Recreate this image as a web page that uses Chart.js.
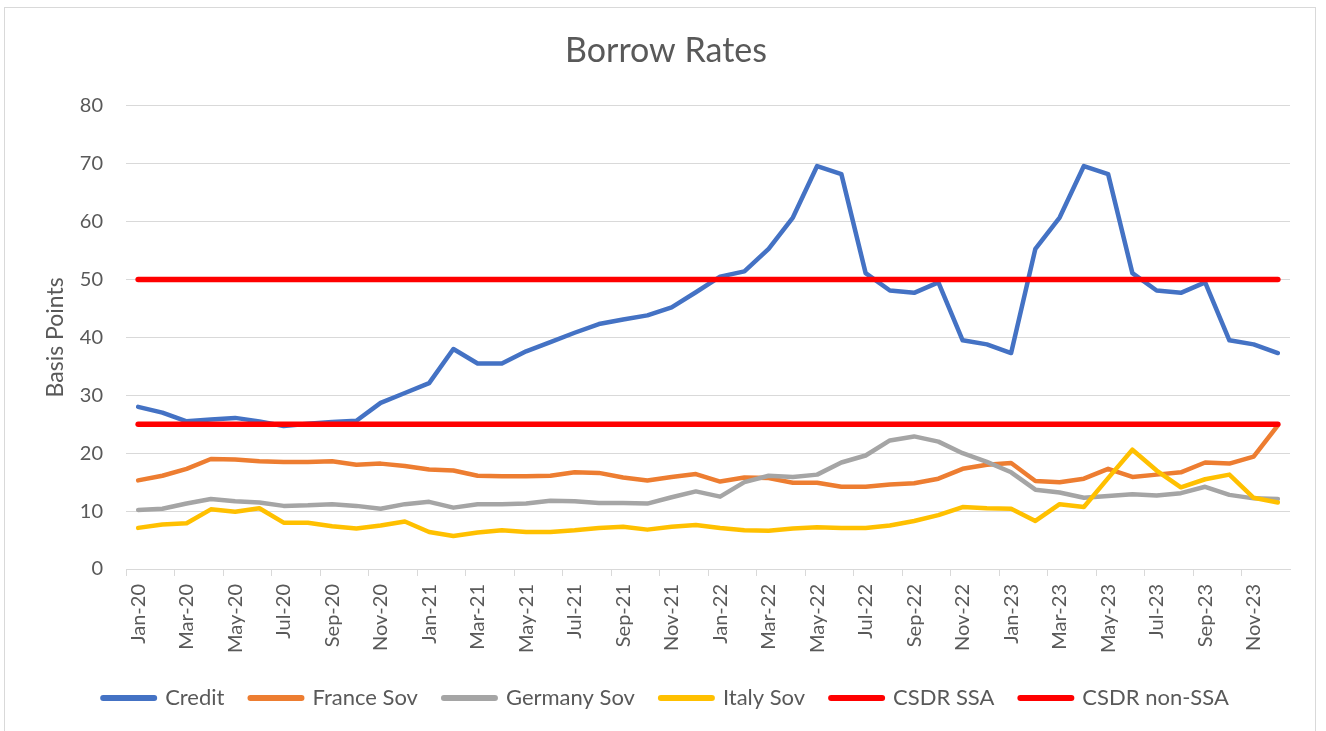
<!DOCTYPE html>
<html>
<head>
<meta charset="utf-8">
<script src="https://cdn.jsdelivr.net/npm/chart.js@4/dist/chart.umd.min.js"></script>
<style>
    html, body { margin: 0; padding: 0; background: #fff; overflow: hidden; }
    #wrap { position: relative; width: 1326px; height: 731px; }
    #frame { position: absolute; left: 4px; top: 7px; width: 1312px; height: 740px; border: 1px solid #D9D9D9; box-sizing: border-box; }
    canvas { position: absolute; left: 0; top: 0; }
</style>
</head>
<body>
<div id="wrap">
    <div id="frame"></div>
    <canvas id="borrowChart" width="1326" height="731"></canvas>
</div>
<script>
// Monthly categories
const months = [
    'Jan-20', 'Feb-20', 'Mar-20', 'Apr-20', 'May-20', 'Jun-20', 'Jul-20', 'Aug-20', 'Sep-20', 'Oct-20', 'Nov-20', 'Dec-20',
    'Jan-21', 'Feb-21', 'Mar-21', 'Apr-21', 'May-21', 'Jun-21', 'Jul-21', 'Aug-21', 'Sep-21', 'Oct-21', 'Nov-21', 'Dec-21',
    'Jan-22', 'Feb-22', 'Mar-22', 'Apr-22', 'May-22', 'Jun-22', 'Jul-22', 'Aug-22', 'Sep-22', 'Oct-22', 'Nov-22', 'Dec-22',
    'Jan-23', 'Feb-23', 'Mar-23', 'Apr-23', 'May-23', 'Jun-23', 'Jul-23', 'Aug-23', 'Sep-23', 'Oct-23', 'Nov-23', 'Dec-23'
];

// Borrow rates in basis points
const credit = [
    28.0, 27.0, 25.5, 25.8, 26.1, 25.5, 24.7, 25.1, 25.4, 25.6, 28.7, 30.4,
    32.1, 38.0, 35.5, 35.5, 37.6, 39.2, 40.8, 42.3, 43.1, 43.8, 45.2, 47.8,
    50.5, 51.4, 55.3, 60.7, 69.6, 68.2, 51.1, 48.1, 47.7, 49.5, 39.5, 38.8,
    37.3, 55.3, 60.7, 69.6, 68.2, 51.1, 48.1, 47.7, 49.5, 39.5, 38.8, 37.3
];
const franceSov = [
    15.3, 16.1, 17.3, 19.0, 18.9, 18.6, 18.5, 18.5, 18.6, 18.0, 18.2, 17.8,
    17.2, 17.0, 16.1, 16.0, 16.0, 16.1, 16.7, 16.6, 15.8, 15.3, 15.9, 16.4,
    15.1, 15.8, 15.7, 14.9, 14.9, 14.2, 14.2, 14.6, 14.8, 15.6, 17.3, 18.0,
    18.3, 15.2, 15.0, 15.6, 17.3, 15.9, 16.3, 16.7, 18.4, 18.2, 19.4, 24.8
];
const germanySov = [
    10.2, 10.4, 11.3, 12.1, 11.7, 11.5, 10.9, 11.0, 11.2, 10.9, 10.4, 11.2,
    11.6, 10.6, 11.2, 11.2, 11.3, 11.8, 11.7, 11.4, 11.4, 11.3, 12.4, 13.4,
    12.5, 15.0, 16.1, 15.9, 16.3, 18.4, 19.6, 22.2, 22.9, 22.0, 20.0, 18.5,
    16.7, 13.7, 13.2, 12.3, 12.6, 12.9, 12.7, 13.1, 14.2, 12.8, 12.2, 12.1
];
const italySov = [
    7.1, 7.7, 7.9, 10.3, 9.9, 10.5, 8.0, 8.0, 7.4, 7.0, 7.5, 8.2,
    6.4, 5.7, 6.3, 6.7, 6.4, 6.4, 6.7, 7.1, 7.3, 6.8, 7.3, 7.6,
    7.1, 6.7, 6.6, 7.0, 7.2, 7.1, 7.1, 7.5, 8.3, 9.3, 10.7, 10.5,
    10.4, 8.3, 11.2, 10.7, 15.7, 20.6, 17.0, 14.1, 15.5, 16.3, 12.3, 11.5
];

// CSDR threshold levels (flat lines)
const csdrSsaLevel = 50;
const csdrNonSsaLevel = 25;
const csdrSsa = months.map(() => csdrSsaLevel);
const csdrNonSsa = months.map(() => csdrNonSsaLevel);

// Y axis ticks
const yTicks = [0, 10, 20, 30, 40, 50, 60, 70, 80];

const textColor = '#595959';
const gridColor = '#D9D9D9';
const fontFamily = 'Lato, "Open Sans", sans-serif';

function series(label, data, color, width, order) {
    return {
        label: label,
        data: data,
        borderColor: color,
        backgroundColor: color,
        borderWidth: width,
        borderCapStyle: 'round',
        borderJoinStyle: 'round',
        pointRadius: 0,
        pointHoverRadius: 0,
        pointStyle: 'line',
        tension: 0,
        fill: false,
        order: order
    };
}

new Chart(document.getElementById('borrowChart'), {
    type: 'line',
    data: {
        labels: months,
        datasets: [
            series('Credit', credit, '#4472C4', 4.5, 6),
            series('France Sov', franceSov, '#ED7D31', 4.5, 5),
            series('Germany Sov', germanySov, '#A5A5A5', 4.5, 4),
            series('Italy Sov', italySov, '#FFC000', 4.5, 3),
            series('CSDR SSA', csdrSsa, '#FF0000', 5.5, 2),
            series('CSDR non-SSA', csdrNonSsa, '#FF0000', 5.5, 1)
        ]
    },
    options: {
        responsive: false,
        animation: false,
        layout: {
            padding: { left: 42, right: 36, top: 31, bottom: 12 }
        },
        plugins: {
            title: {
                display: true,
                text: 'Borrow Rates',
                color: textColor,
                font: { family: fontFamily, size: 34, weight: 'normal' },
                padding: { top: 0, bottom: 34 }
            },
            legend: {
                position: 'bottom',
                labels: {
                    usePointStyle: true,
                    pointStyleWidth: 51,
                    color: textColor,
                    padding: 26,
                    font: { family: fontFamily, size: 22 },
                    sort: (a, b) => a.datasetIndex - b.datasetIndex,
                    generateLabels: chart => {
                        const items = Chart.defaults.plugins.legend.labels.generateLabels(chart);
                        items.forEach(item => {
                            item.lineWidth = 6;
                            item.lineCap = 'round';
                        });
                        return items;
                    }
                }
            },
            tooltip: { enabled: false }
        },
        scales: {
            x: {
                offset: true,
                afterFit: scale => { scale.height = 92; },
                grid: {
                    offset: true,
                    drawOnChartArea: false,
                    drawTicks: true,
                    tickLength: 7,
                    tickColor: ctx => ctx.index % 2 === 0 ? gridColor : 'rgba(0,0,0,0)'
                },
                border: { display: true, color: gridColor },
                ticks: {
                    autoSkip: false,
                    minRotation: 90,
                    maxRotation: 90,
                    padding: 8,
                    color: textColor,
                    font: { family: fontFamily, size: 20 },
                    callback: function (value, index) {
                        return index % 2 === 0 ? months[index] : '';
                    }
                }
            },
            y: {
                min: 0,
                max: 80,
                afterFit: scale => { scale.width = 84; },
                afterBuildTicks: scale => { scale.ticks = yTicks.map(v => ({ value: v })); },
                grid: { color: gridColor, drawTicks: false },
                border: { display: false },
                ticks: {
                    padding: 23,
                    color: textColor,
                    font: { family: fontFamily, size: 20 }
                },
                title: {
                    display: true,
                    text: 'Basis Points',
                    color: textColor,
                    font: { family: fontFamily, size: 23 },
                    padding: { top: 0, bottom: 0 }
                }
            }
        }
    }
});
</script>
</body>
</html>
